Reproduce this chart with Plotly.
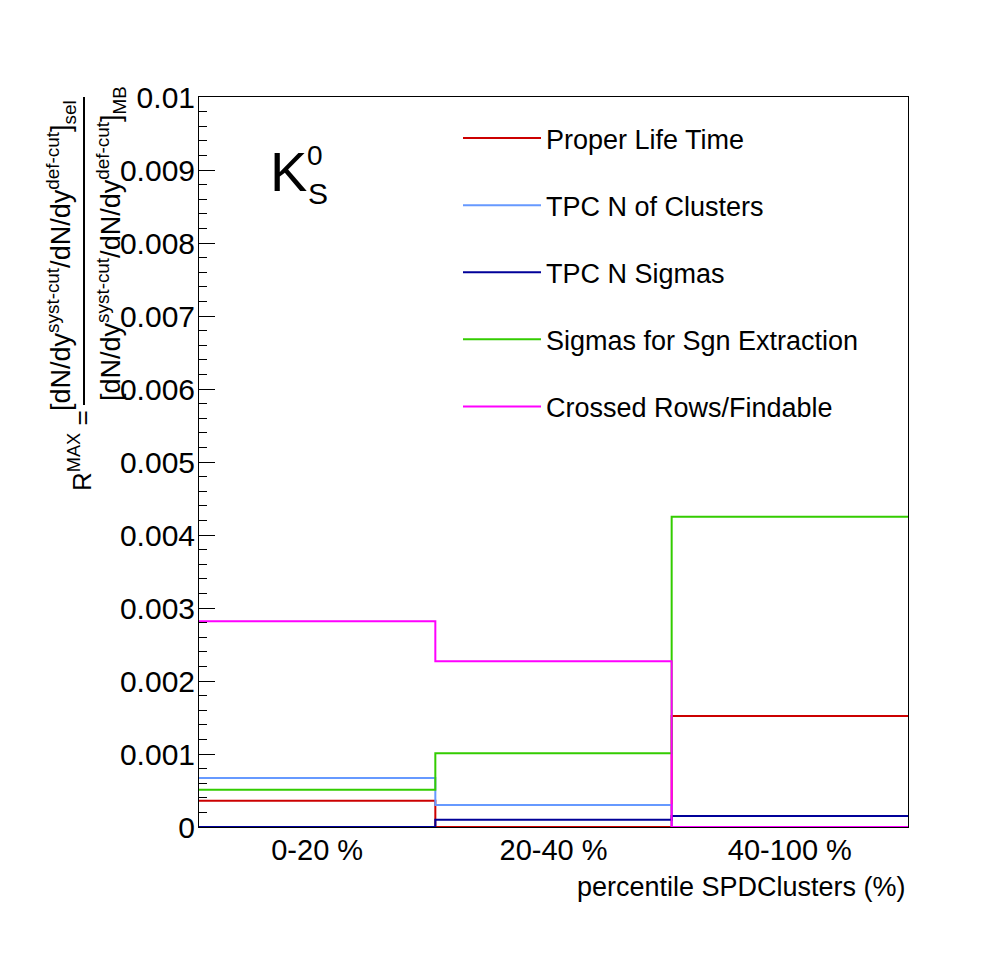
import plotly.graph_objects as go

# Bins (percentile SPDClusters) and maximal deviation per cut variation
bin_labels = ['0-20 %', '20-40 %', '40-100 %']
bin_edges = [0, 1, 2, 3]

series_names = ['Proper Life Time', 'TPC N of Clusters', 'TPC N Sigmas',
                'Sigmas for Sgn Extraction', 'Crossed Rows/Findable']
series_colors = ['#cc0000', '#6699ff', '#000099', '#33cc00', '#ff00ff']

proper_life_time = [0.00036, 0.0, 0.00152]
tpc_n_clusters = [0.00067, 0.00030, 0.0]
tpc_n_sigmas = [0.0, 0.00010, 0.00015]
sigmas_sgn_extraction = [0.00051, 0.00101, 0.00425]
crossed_rows_findable = [0.00282, 0.00227, 0.0]

series_values = [proper_life_time, tpc_n_clusters, tpc_n_sigmas,
                 sigmas_sgn_extraction, crossed_rows_findable]

y_ticks = [0, 0.001, 0.002, 0.003, 0.004, 0.005, 0.006, 0.007, 0.008, 0.009, 0.01]
y_tick_text = ['0', '0.001', '0.002', '0.003', '0.004', '0.005',
               '0.006', '0.007', '0.008', '0.009', '0.01']

# page body has an 8px margin, so the figure is made 8px smaller
OFF = 8
W, H = 998 - OFF, 973 - OFF
L, T = 199 - OFF, 97 - OFF
pw, ph = 709, 730
R, B = W - L - pw, H - T - ph


def px(x):
    return (x - L - OFF) / pw


def py(y):
    return (T + OFF + ph - y) / ph


fig = go.Figure()

# histogram outlines drawn as steps
for name, color, vals in zip(series_names, series_colors, series_values):
    fig.add_trace(go.Scatter(
        x=bin_edges,
        y=vals + [vals[-1]],
        mode='lines',
        line=dict(color=color, width=2, shape='hv'),
        name=name,
        legendgroup=name,
    ))

font = 'Liberation Sans, Arial, sans-serif'

annotations = [
    # particle label
    dict(x=px(288), y=py(171), text='K', font=dict(size=56)),
    dict(x=px(315), y=py(155), text='0', font=dict(size=28)),
    dict(x=px(318), y=py(194), text='S', font=dict(size=30)),
    # x axis title
    dict(x=1, y=py(887), text='percentile SPDClusters (%)', xanchor='right',
         font=dict(size=27)),
    # y axis title as a rotated fraction
    dict(x=px(80), y=py(451), text='R<sup>MAX</sup> =', textangle=-90,
         font=dict(size=26)),
    dict(x=px(61), y=py(256),
         text='[dN/dy<sup>syst-cut</sup>/dN/dy<sup>def-cut</sup>]<sub>sel</sub>',
         textangle=-90, font=dict(size=27)),
    dict(x=px(111), y=py(244),
         text='[dN/dy<sup>syst-cut</sup>/dN/dy<sup>def-cut</sup>]<sub>MB</sub>',
         textangle=-90, font=dict(size=27)),
]
for a in annotations:
    a.setdefault('xanchor', 'center')
    a.setdefault('yanchor', 'middle')
    a.update(xref='paper', yref='paper', showarrow=False)
    a['font'].update(family=font, color='black')

fig.update_layout(
    width=W, height=H,
    margin=dict(l=L, r=R, t=T, b=B),
    paper_bgcolor='white', plot_bgcolor='white',
    font=dict(family=font, color='black', size=26),
    annotations=annotations,
    shapes=[dict(type='line', xref='paper', yref='paper',
                 x0=px(84), x1=px(84), y0=py(97), y1=py(405),
                 line=dict(color='black', width=2))],
    legend=dict(x=px(458), y=py(114), xanchor='left', yanchor='top',
                font=dict(size=27), bgcolor='rgba(0,0,0,0)',
                tracegroupgap=29, itemwidth=78),
    showlegend=True,
)

fig.update_xaxes(
    range=[0, 3], tickvals=[0.5, 1.5, 2.5], ticktext=bin_labels,
    ticks='', showgrid=False, zeroline=False,
    showline=True, mirror=True, linecolor='black', linewidth=1,
    tickfont=dict(size=29), ticklabelstandoff=-3,
)
fig.update_yaxes(
    range=[0, 0.01], tickvals=y_ticks, ticktext=y_tick_text,
    ticks='inside', ticklen=16, tickcolor='black', tickwidth=1,
    minor=dict(dtick=0.0002, ticks='inside', ticklen=8, tickcolor='black'),
    showgrid=False, zeroline=False,
    showline=True, mirror=True, linecolor='black', linewidth=1,
    tickfont=dict(size=30), ticklabelstandoff=-3,
)

fig.write_html('out.html')
